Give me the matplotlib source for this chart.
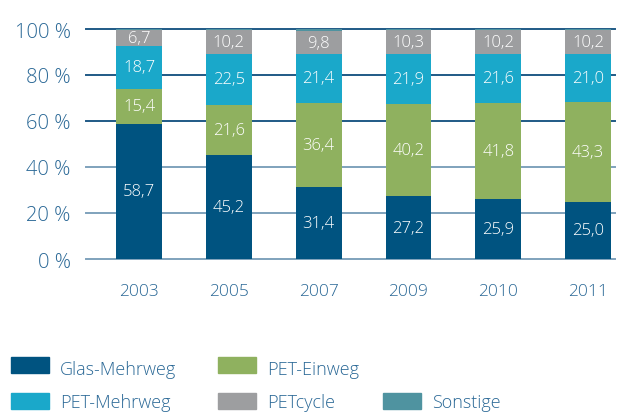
import matplotlib.pyplot as plt
from matplotlib.patches import Rectangle

plt.rcParams['font.family'] = ['Open Sans', 'DejaVu Sans']
plt.rcParams['font.weight'] = 'light'

years = ['2003', '2005', '2007', '2009', '2010', '2011']
glas_mehrweg = [58.7, 45.2, 31.4, 27.2, 25.9, 25.0]
pet_einweg = [15.4, 21.6, 36.4, 40.2, 41.8, 43.3]
pet_mehrweg = [18.7, 22.5, 21.4, 21.9, 21.6, 21.0]
petcycle = [6.7, 10.2, 9.8, 10.3, 10.2, 10.2]
sonstige = [0.5, 0.5, 1.0, 0.4, 0.5, 0.5]

series = [
    ('Glas-Mehrweg', glas_mehrweg, '#005380', True),
    ('PET-Einweg', pet_einweg, '#8FB15F', True),
    ('PET-Mehrweg', pet_mehrweg, '#1AA8CA', True),
    ('PETcycle', petcycle, '#9D9EA0', True),
    ('Sonstige', sonstige, '#4F93A0', False),
]

text_col = '#2A6896'

fig = plt.figure(figsize=(6.23, 4.14), dpi=100)
ax = fig.add_axes([86 / 623, 1 - 260 / 414, (615 - 86) / 623, 230 / 414])

x = range(len(years))
bottom = [0.0] * len(years)
for name, vals, col, show in series:
    bars = ax.bar(x, vals, bottom=bottom, width=0.51, color=col, zorder=2)
    if show:
        labels = [f'{v:.1f}'.replace('.', ',') for v in vals]
        ax.bar_label(bars, labels=labels, label_type='center', color='white', fontsize=12)
    bottom = [b + v for b, v in zip(bottom, vals)]

# gridlines behind bars
for t in [0, 20, 40, 60, 80, 100]:
    c = '#1F5A86' if t >= 60 else '#7FA2BC'
    ax.axhline(t, color=c, lw=1.4, zorder=1, clip_on=False)

ax.set_xlim(-0.59, 5.3)
ax.set_ylim(0, 100)
ax.set_yticks([0, 20, 40, 60, 80, 100])
ax.set_yticklabels([f'{t} %' for t in [0, 20, 40, 60, 80, 100]], fontsize=14.5, color=text_col)
ax.set_xticks(list(x))
ax.set_xticklabels(years, fontsize=12.5, color=text_col)
ax.tick_params(length=0)
ax.tick_params(axis='y', pad=11)
ax.tick_params(axis='x', pad=17)
for s in ax.spines.values():
    s.set_visible(False)

# legend, laid out as in the original (two rows)
legend_pos = [(11, 366), (218, 366), (11, 402), (218, 402), (383, 402)]
for (px, py), (name, _, col, _) in zip(legend_pos, series):
    fig.add_artist(Rectangle((px / 623, 1 - (py + 8) / 414), 38 / 623, 16 / 414,
                             transform=fig.transFigure, color=col))
    base = py + 9 if py < 400 else py + 6
    fig.text((px + 49) / 623, 1 - base / 414, name, fontsize=13, color=text_col, va='baseline')

fig.savefig('out.png', dpi=100)
